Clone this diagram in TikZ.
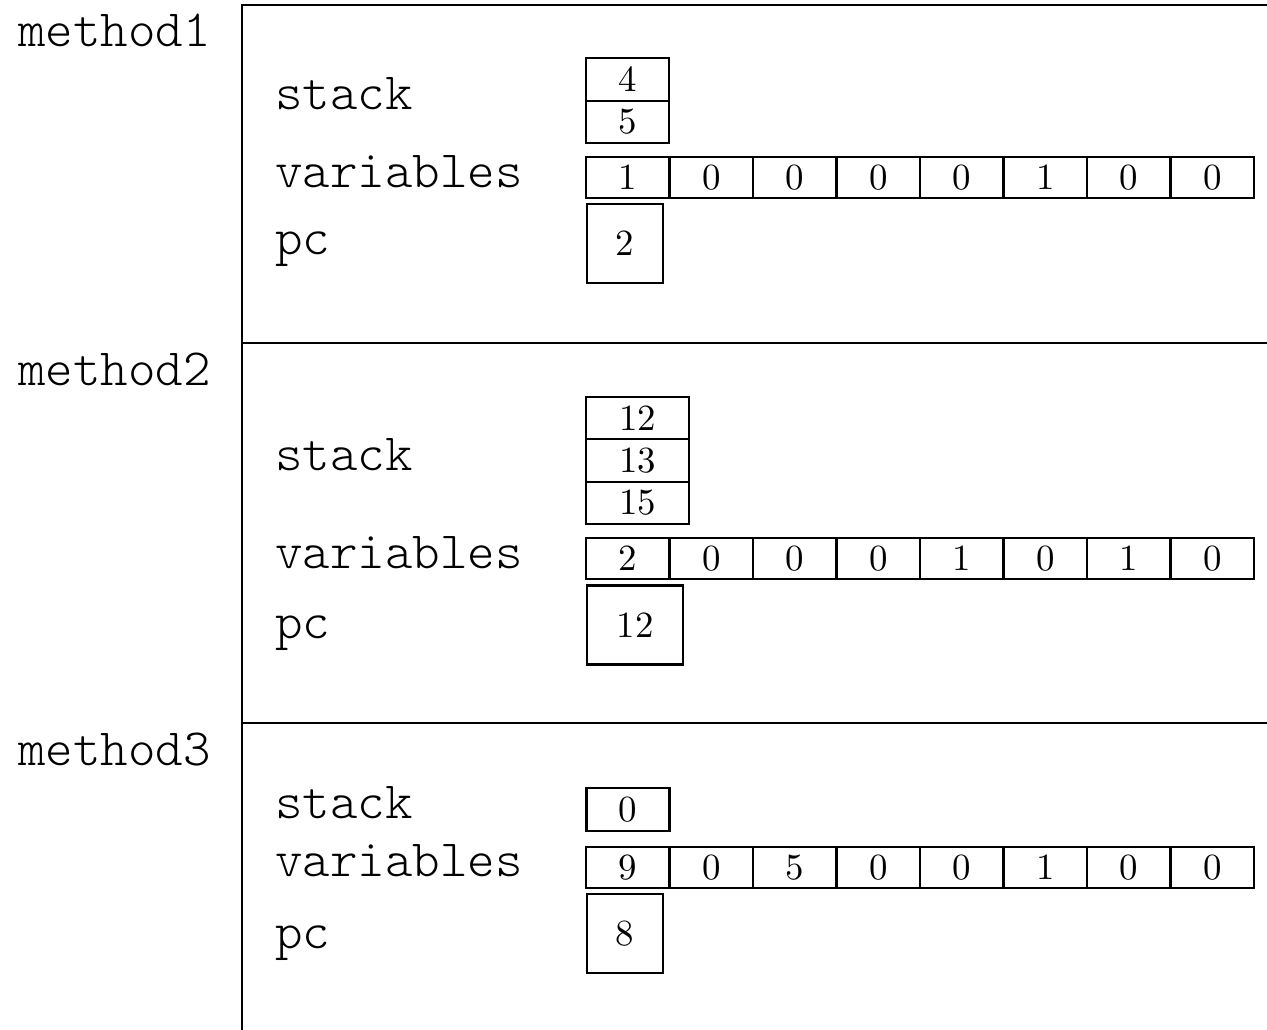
\documentclass[tikz,border=0pt]{standalone}
\usepackage{fontspec}
\newfontfamily\cellfont{lmroman10-regular}[Extension=.otf]
\newfontfamily\namefont{lmmonolt10-regular}[Extension=.otf]
\usetikzlibrary{positioning}
\tikzset{
    methodname/.style={anchor=base west, inner sep=0pt, font=\namefont\fontsize{29.8}{33}\selectfont},
    fieldname/.style={anchor=base west, inner sep=0pt, font=\namefont\fontsize{29.8}{33}\selectfont},
    cell/.style={rectangle, draw=black, line width=1.2pt, inner sep=0pt, font=\cellfont\fontsize{21}{25}\selectfont},
    stackcell/.style={cell, minimum width=1.66cm, minimum height=0.85cm},
    varcell/.style={cell, minimum width=1.67cm, minimum height=0.83cm},
    pcbox/.style={cell, minimum width=1.52cm, minimum height=1.58cm},
    frame/.style={line width=1.2pt}
}

\begin{document}
\begin{tikzpicture}[x=0.02cm, y=-0.02cm]
\useasboundingbox (0,0) rectangle (1267,1030);

% Outer frame and separators between the methods
\draw[frame] (1267,5) -- (242,5) -- (242,1030);
\draw[frame] (242,343) -- (1267,343);
\draw[frame] (242,723) -- (1267,723);

% Method 1
\node[methodname] (m1) at (18,47) {method1};
\node[fieldname] (m1stack) at (275,110) {stack};
\node[fieldname] (m1vars) at (275,188) {variables};
\node[fieldname] (m1pc) at (275,255) {pc};

\node[stackcell] (s1-1) at (627.5,79.5) {4};
\node[stackcell] (s1-2) at (627.5,122) {5};
\foreach \v [count=\i] in {1,0,0,0,0,1,0,0}
    \node[varcell] (v1-\i) at ({586+83.5*(\i-0.5)},177.5) {\v};
\node[pcbox] (pc1) at (625,243.5) {2};

% Method 2
\node[methodname] (m2) at (18,385) {method2};
\node[fieldname] (m2stack) at (275,470) {stack};
\node[fieldname] (m2vars) at (275,568) {variables};
\node[fieldname] (m2pc) at (275,638) {pc};

\node[stackcell, minimum width=2.06cm] (s2-1) at (637.5,418) {12};
\node[stackcell, minimum width=2.06cm] (s2-2) at (637.5,460.5) {13};
\node[stackcell, minimum width=2.06cm] (s2-3) at (637.5,503) {15};
\foreach \v [count=\i] in {2,0,0,0,1,0,1,0}
    \node[varcell] (v2-\i) at ({586+83.5*(\i-0.5)},558.5) {\v};
\node[pcbox, minimum width=1.92cm] (pc2) at (635,625) {12};

% Method 3
\node[methodname] (m3) at (18,765) {method3};
\node[fieldname] (m3stack) at (275,818) {stack};
\node[fieldname] (m3vars) at (275,876) {variables};
\node[fieldname] (m3pc) at (275,948) {pc};

\node[stackcell] (s3-1) at (628,809.5) {0};
\foreach \v [count=\i] in {9,0,5,0,0,1,0,0}
    \node[varcell] (v3-\i) at ({586+83.5*(\i-0.5)},867.5) {\v};
\node[pcbox] (pc3) at (625,933.5) {8};

\end{tikzpicture}
\end{document}
